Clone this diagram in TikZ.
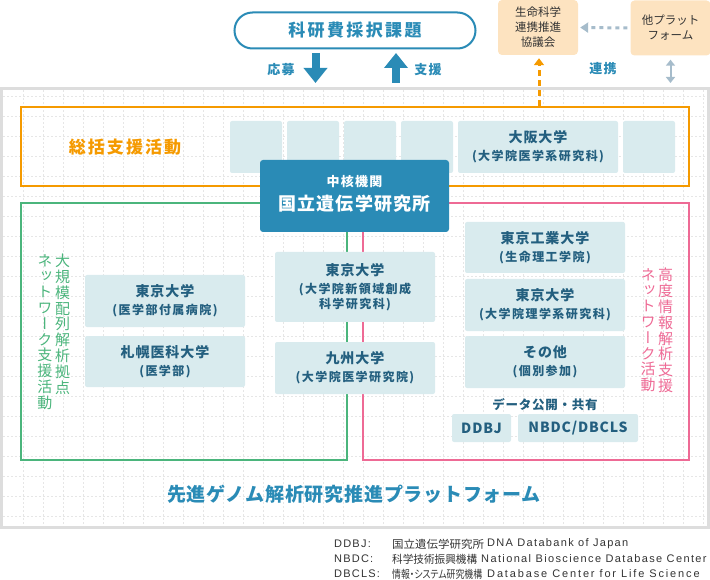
\documentclass[tikz,border=0pt]{standalone}
\usepackage{fontspec}
\usepackage{graphicx}
\usetikzlibrary{arrows.meta}
\setmainfont{Noto Sans CJK JP}
\newfontfamily\vjp{Noto Sans CJK JP}[RawFeature=+vert]
\newfontfamily\legjp{Noto Sans CJK JP}[RawFeature=+palt]
\newfontfamily\legen{Liberation Sans}
\newcommand\fs[2]{\fontsize{#1}{#2}\selectfont}
\newcommand\ls[1]{\addfontfeature{LetterSpace=#1}}
\newcommand\hd[1]{{\fs{14}{18}\ls{7}#1}}
\definecolor{mblue}{HTML}{2A8BB6}
\definecolor{tblue}{HTML}{235F7F}
\definecolor{lboxc}{HTML}{D9EBEE}
\definecolor{orng}{HTML}{F59A00}
\definecolor{grn}{HTML}{4BB57C}
\definecolor{pnk}{HTML}{EE6A95}
\definecolor{peach}{HTML}{FDE3C0}
\definecolor{gframe}{HTML}{DDDDDD}
\definecolor{gridc}{HTML}{E6E6E6}
\definecolor{arrg}{HTML}{A6BCCB}
\definecolor{txtg}{HTML}{333333}
\begin{document}
\begin{tikzpicture}[x=1pt,y=-1pt,
  lb/.style={fill=lboxc, rounded corners=2pt, inner sep=0pt, text=tblue, align=center, font=\bfseries\fs{12}{18}},
  pbox/.style={fill=peach, rounded corners=4pt, minimum width=80pt, minimum height=55pt, inner sep=0pt, align=center, text=txtg, font=\fs{11.5}{15}},
  lab/.style={text=mblue, font=\fs{13}{15}\bfseries, inner sep=0pt},
  blockarrow/.style={mblue, line width=8pt, -{Triangle[width=23pt,length=15pt]}},
  vt/.style={align=center, inner sep=0pt, anchor=north, font=\vjp\fs{15}{15.8}},
  leg/.style={anchor=west, inner sep=0pt, text=txtg},
  gridl/.style={gridc, line width=0.8pt, dash pattern=on 2pt off 2pt}
]
\useasboundingbox (0,0) rectangle (710,580);
% platform frame and grid
\foreach \x in {23,43,...,703} \draw[gridl] (\x,90) -- (\x,525);
\foreach \y in {96,116,...,516} \draw[gridl] (3,\y) -- (707,\y);
\draw[gframe, line width=3pt] (1.5,88.5) rectangle (708.5,527);

% top
\node[draw=mblue, line width=2pt, rounded corners=18pt, minimum width=241pt, minimum height=36pt, inner sep=0pt, text=mblue, font=\fs{17}{20}\bfseries] (kaken) at (355,30.5) {\ls{14}科研費採択課題};
\coordinate (ouboT) at (315.5,53);
\coordinate (ouboB) at (315.5,83);
\coordinate (shienT) at (396,53);
\coordinate (shienB) at (396,83);
\draw[blockarrow] (ouboT) -- (ouboB);
\draw[blockarrow] (shienB) -- (shienT);
\node[lab] (oubo) at (281,70) {\ls{8}応募};
\node[lab] (shien) at (428,70) {\ls{8}支援};

\node[pbox] (kyogi) at (538,27.5) {生命科学\\連携推進\\協議会};
\node[pbox] (other) at (670.5,28) {他プラット\\フォーム};
\draw[arrg, line width=3pt, dash pattern=on 4pt off 4pt, -{Triangle[width=10pt,length=8pt]}, shorten <=3pt, shorten >=2pt] (other.west) -- (kyogi.east);
\node[lab] (renkei) at (603,69) {\ls{8}連携};
\coordinate (frtop) at (670.5,87);
\draw[arrg, line width=2pt, {Triangle[width=9pt,length=6pt]}-{Triangle[width=9pt,length=6pt]}, shorten <=4pt, shorten >=4pt] (other.south) -- (frtop);
\coordinate (otop) at (539,106);
\draw[orng, line width=3pt, dash pattern=on 6pt off 4pt, -{Triangle[width=10pt,length=7pt]}, shorten >=3pt] (otop) -- (otop |- kyogi.south);

% orange box
\draw[orng, line width=2.2pt] (21,107) rectangle (689,186);
\node[text=orng, font=\fs{17}{20}\bfseries, inner sep=0pt] (sokatsu) at (125,147) {\ls{12}総括支援活動};
\node[lb, minimum width=52pt, minimum height=52pt] (o1) at (256,147) {};
\node[lb, minimum width=52pt, minimum height=52pt] (o2) at (313,147) {};
\node[lb, minimum width=52pt, minimum height=52pt] (o3) at (370,147) {};
\node[lb, minimum width=52pt, minimum height=52pt] (o4) at (427,147) {};
\node[lb, minimum width=160pt, minimum height=52pt] (osaka) at (538,147) {\hd{大阪大学}\\\ls{12}(大学院医学系研究科)};
\node[lb, minimum width=52pt, minimum height=52pt] (o6) at (649,147) {};

% green and pink boxes
\draw[grn, line width=2pt] (21,203) rectangle (347,460);
\draw[pnk, line width=2pt] (363,203) rectangle (689,460);

% core box
\node[fill=mblue, rounded corners=3pt, minimum width=189pt, minimum height=72pt, inner sep=0pt] (core) at (354.5,196) {};
\node[text=white, font=\fs{13}{15}\bfseries, inner sep=0pt] (coreA) at (354.5,182) {\ls{10}中核機関};
\node[text=white, font=\fs{18}{20}\bfseries, inner sep=0pt] (coreB) at (354.5,204) {\ls{7}国立遺伝学研究所};

% green contents
\node[vt, text=grn] (g1) at (62.5,254) {大\\規\\模\\配\\列\\解\\析\\拠\\点};
\node[vt, text=grn] (g2) at (45,254) {ネ\\ッ\\ト\\ワ\\ー\\ク\\支\\援\\活\\動};
\node[lb, minimum width=160pt, minimum height=52pt] (tokyoH) at (165,301) {\hd{東京大学}\\\ls{12}(医学部付属病院)};
\node[lb, minimum width=160pt, minimum height=51pt] (sapporo) at (165,361.5) {\hd{札幌医科大学}\\\ls{12}(医学部)};

% center contents
\node[lb, minimum width=160pt, minimum height=70pt, font=\bfseries\fs{12}{15}] (tokyoS) at (355,287) {\hd{東京大学}\\[3pt]\ls{12}(大学院新領域創成\\\ls{12}科学研究科)};
\node[lb, minimum width=160pt, minimum height=52pt] (kyushu) at (355,368) {\hd{九州大学}\\\ls{12}(大学院医学研究院)};

% pink contents
\node[lb, minimum width=160pt, minimum height=51pt] (titech) at (545,247.5) {\hd{東京工業大学}\\\ls{12}(生命理工学院)};
\node[lb, minimum width=160pt, minimum height=52pt] (tokyoR) at (545,305) {\hd{東京大学}\\\ls{12}(大学院理学系研究科)};
\node[lb, minimum width=160pt, minimum height=52pt] (sonota) at (545,362) {\hd{その他}\\\ls{12}(個別参加)};
\node[text=tblue, font=\fs{12.5}{15}\bfseries, inner sep=0pt] (data) at (545,405) {\ls{6}データ公開・共有};
\node[lb, minimum width=59pt, minimum height=28pt, font=\fs{14}{16}\bfseries] (ddbj) at (481.5,428) {\ls{6}DDBJ};
\node[lb, minimum width=120pt, minimum height=28pt, font=\fs{14}{16}\bfseries] (nbdc) at (578,428) {\ls{6}NBDC/DBCLS};
\node[vt, text=pnk] (p1) at (665.5,268) {高\\度\\情\\報\\解\\析\\支\\援};
\node[vt, text=pnk] (p2) at (648,268) {ネ\\ッ\\ト\\ワ\\ー\\ク\\活\\動};

% platform title
\node[text=mblue, font=\fs{19}{22}\bfseries, inner sep=0pt] (ptitle) at (354,494) {\ls{4}先進ゲノム解析研究推進プラットフォーム};

% legend
\node[leg, font=\legen\fs{11}{13}] (l1a) at (334,544) {\ls{11}DDBJ:};
\node[leg, font=\legen\fs{11}{13}] (l2a) at (334,559) {\ls{11}NBDC:};
\node[leg, font=\legen\fs{11}{13}] (l3a) at (334,574) {\ls{11}DBCLS:};
\node[leg, font=\legjp\fs{11}{13}] (l1b) at (392,544) {\resizebox{92pt}{\height}{国立遺伝学研究所}};
\node[leg, font=\legjp\fs{11}{13}] (l2b) at (392,559) {\resizebox{85pt}{\height}{科学技術振興機構}};
\node[leg, font=\legjp\fs{11}{13}] (l3b) at (392,574) {\resizebox{90pt}{\height}{情報・システム研究機構}};
\node[leg, font=\legen\fs{11}{13}] (l1c) at (487,544) {\ls{12}DNA Databank of Japan};
\node[leg, font=\legen\fs{11}{13}] (l2c) at (481,559) {\ls{12.5}National Bioscience Database Center};
\node[leg, font=\legen\fs{11}{13}] (l3c) at (487,574) {\ls{17}Database Center for Life Science};
\end{tikzpicture}
\end{document}
